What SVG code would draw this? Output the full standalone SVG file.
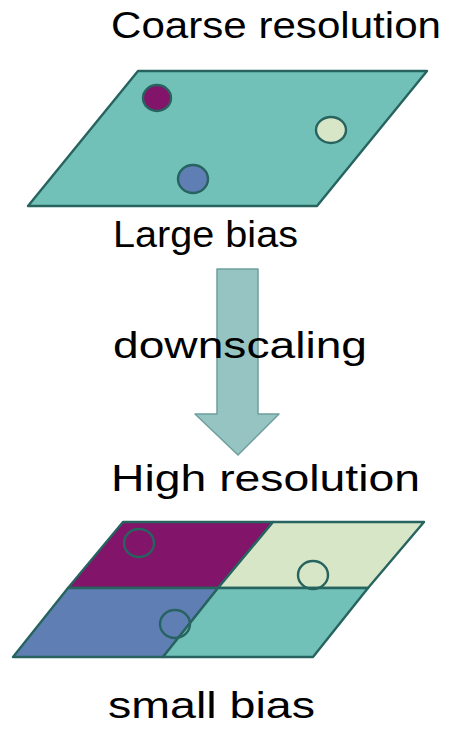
<svg xmlns="http://www.w3.org/2000/svg" width="449" height="732" viewBox="0 0 449 732">
<style>
.t{font-family:"Liberation Sans",Arial,sans-serif;font-size:37px;fill:#000}
.pl{stroke:#27635F;stroke-width:2.4;stroke-linejoin:round}
.dot{stroke:#27635F;stroke-width:2.4}
</style>
<rect width="449" height="732" fill="#fff"/>
<g id="coarse">
<polygon class="pl" points="138,71 427,71 317,206 28,206" fill="#72C1B9"/>
<ellipse class="dot" cx="157" cy="98" rx="14" ry="13" fill="#82146A"/>
<ellipse class="dot" cx="331" cy="130" rx="15" ry="13" fill="#D6E6C6"/>
<ellipse class="dot" cx="193" cy="179" rx="15" ry="14" fill="#5F7EB4"/>
</g>
<g id="connectors">
<polygon id="arrow" points="217,269 258,269 258,414 279,414 238,455 195,414 217,414" fill="#96C4C2" stroke="#6F9F9C" stroke-width="1.5" stroke-linejoin="round"/>
</g>
<g id="fine">
<polygon class="pl" points="123,522 273,522 218,588 68,588" fill="#82146A"/>
<polygon class="pl" points="273,522 424,522 368,588 218,588" fill="#D6E6C6"/>
<polygon class="pl" points="68,588 218,588 163,657 13,657" fill="#5F7EB4"/>
<polygon class="pl" points="218,588 368,588 313,657 163,657" fill="#72C1B9"/>
<ellipse class="dot" cx="139" cy="543" rx="15" ry="14" fill="none"/>
<ellipse class="dot" cx="313" cy="575" rx="15" ry="14" fill="none"/>
<ellipse class="dot" cx="175" cy="624" rx="15" ry="14" fill="none"/>
</g>
<g id="labels">
<text class="t" x="111" y="38" textLength="330" lengthAdjust="spacingAndGlyphs">Coarse resolution</text>
<text class="t" x="113" y="247" textLength="185" lengthAdjust="spacingAndGlyphs">Large bias</text>
<text class="t" x="113" y="358" textLength="254" lengthAdjust="spacingAndGlyphs">downscaling</text>
<text class="t" x="111" y="491" textLength="309" lengthAdjust="spacingAndGlyphs">High resolution</text>
<text class="t" x="108" y="718" textLength="207" lengthAdjust="spacingAndGlyphs">small bias</text>
</g>
</svg>
